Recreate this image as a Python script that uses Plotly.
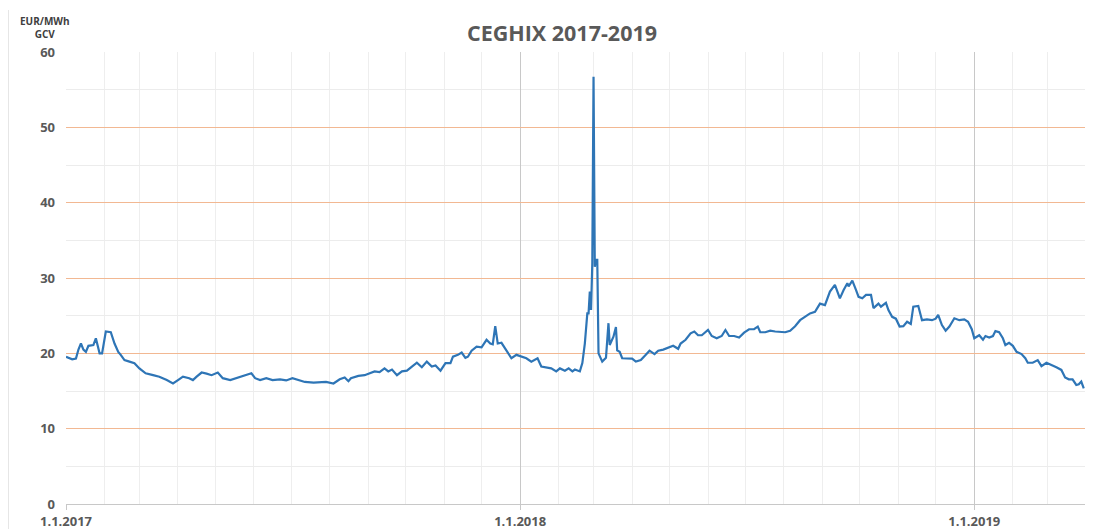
import plotly.graph_objects as go

dates = [
    "2017-01-01", "2017-01-06", "2017-01-09", "2017-01-11", "2017-01-13", "2017-01-15", "2017-01-17",
    "2017-01-19", "2017-01-23", "2017-01-25", "2017-01-28", "2017-01-30", "2017-02-02", "2017-02-06",
    "2017-02-09", "2017-02-12", "2017-02-14", "2017-02-17", "2017-02-21", "2017-02-25", "2017-03-01",
    "2017-03-06", "2017-03-12", "2017-03-17", "2017-03-23", "2017-03-28", "2017-04-01", "2017-04-05",
    "2017-04-10", "2017-04-13", "2017-04-16", "2017-04-20", "2017-04-24", "2017-04-28", "2017-05-03",
    "2017-05-07", "2017-05-13", "2017-05-18", "2017-05-23", "2017-05-30", "2017-06-02", "2017-06-06",
    "2017-06-11", "2017-06-16", "2017-06-22", "2017-06-27", "2017-07-02", "2017-07-08", "2017-07-12",
    "2017-07-19", "2017-07-24", "2017-07-29", "2017-08-04", "2017-08-09", "2017-08-13", "2017-08-16",
    "2017-08-18", "2017-08-24", "2017-08-29", "2017-09-02", "2017-09-06", "2017-09-10", "2017-09-14",
    "2017-09-17", "2017-09-20", "2017-09-24", "2017-09-28", "2017-10-02", "2017-10-06", "2017-10-10",
    "2017-10-14", "2017-10-18", "2017-10-22", "2017-10-25", "2017-10-29", "2017-11-02", "2017-11-06",
    "2017-11-08", "2017-11-12", "2017-11-15", "2017-11-18", "2017-11-20", "2017-11-23", "2017-11-27",
    "2017-12-01", "2017-12-05", "2017-12-08", "2017-12-10", "2017-12-12", "2017-12-14", "2017-12-17",
    "2017-12-20", "2017-12-23", "2017-12-25", "2017-12-29", "2018-01-02", "2018-01-06", "2018-01-10",
    "2018-01-15", "2018-01-18", "2018-01-22", "2018-01-26", "2018-01-30", "2018-02-02", "2018-02-06",
    "2018-02-09", "2018-02-12", "2018-02-14", "2018-02-18", "2018-02-20", "2018-02-21", "2018-02-22",
    "2018-02-24", "2018-02-25", "2018-02-26", "2018-02-27", "2018-02-28", "2018-03-01", "2018-03-02",
    "2018-03-03", "2018-03-04", "2018-03-05", "2018-03-08", "2018-03-11", "2018-03-13", "2018-03-14",
    "2018-03-17", "2018-03-19", "2018-03-20", "2018-03-22", "2018-03-24", "2018-03-28", "2018-04-01",
    "2018-04-04", "2018-04-08", "2018-04-12", "2018-04-15", "2018-04-19", "2018-04-22", "2018-04-26",
    "2018-04-30", "2018-05-04", "2018-05-08", "2018-05-10", "2018-05-14", "2018-05-18", "2018-05-21",
    "2018-05-24", "2018-05-27", "2018-05-29", "2018-06-01", "2018-06-04", "2018-06-08", "2018-06-12",
    "2018-06-15", "2018-06-18", "2018-06-22", "2018-06-26", "2018-06-30", "2018-07-04", "2018-07-08",
    "2018-07-11", "2018-07-13", "2018-07-17", "2018-07-21", "2018-07-25", "2018-07-29", "2018-08-02",
    "2018-08-06", "2018-08-10", "2018-08-14", "2018-08-18", "2018-08-22", "2018-08-26", "2018-08-30",
    "2018-09-03", "2018-09-07", "2018-09-11", "2018-09-15", "2018-09-18", "2018-09-21", "2018-09-22",
    "2018-09-25", "2018-09-28", "2018-09-30", "2018-10-03", "2018-10-06", "2018-10-10", "2018-10-12",
    "2018-10-16", "2018-10-18", "2018-10-22", "2018-10-24", "2018-10-27", "2018-10-30", "2018-11-02",
    "2018-11-05", "2018-11-08", "2018-11-11", "2018-11-13", "2018-11-17", "2018-11-20", "2018-11-24",
    "2018-11-28", "2018-12-01", "2018-12-03", "2018-12-06", "2018-12-09", "2018-12-12", "2018-12-16",
    "2018-12-20", "2018-12-24", "2018-12-27", "2018-12-30", "2019-01-01", "2019-01-05", "2019-01-08",
    "2019-01-10", "2019-01-13", "2019-01-16", "2019-01-18", "2019-01-21", "2019-01-24", "2019-01-26",
    "2019-01-29", "2019-02-01", "2019-02-04", "2019-02-08", "2019-02-11", "2019-02-13", "2019-02-17",
    "2019-02-21", "2019-02-24", "2019-02-28", "2019-03-04", "2019-03-08", "2019-03-12", "2019-03-15",
    "2019-03-18", "2019-03-21", "2019-03-24", "2019-03-26", "2019-03-28", "2019-03-30",
]

prices = [
    19.55, 19.2, 19.3, 20.5, 21.3, 20.5, 20.2,
    21.0, 21.1, 22.0, 20.0, 20.0, 22.9, 22.8,
    21.3, 20.2, 19.8, 19.1, 18.9, 18.7, 18.0,
    17.35, 17.1, 16.9, 16.45, 16.0, 16.45, 16.9,
    16.7, 16.45, 16.9, 17.45, 17.3, 17.1, 17.45,
    16.7, 16.45, 16.7, 17.0, 17.35, 16.7, 16.45,
    16.7, 16.45, 16.55, 16.4, 16.7, 16.45, 16.2,
    16.1, 16.2, 16.2, 16.0, 16.55, 16.8, 16.3,
    16.7, 17.0, 17.1, 17.35, 17.6, 17.5, 18.0,
    17.6, 17.85, 17.1, 17.6, 17.7, 18.25, 18.75,
    18.15, 18.9, 18.25, 18.4, 17.7, 18.7, 18.7,
    19.55, 19.8, 20.1, 19.4, 19.55, 20.35, 20.9,
    20.8, 21.8, 21.3, 21.2, 23.6, 21.3, 21.4,
    20.65, 20.0, 19.35, 19.8, 19.55, 19.35, 18.9,
    19.35, 18.25, 18.15, 18.0, 17.6, 18.0, 17.7,
    18.0, 17.6, 17.85, 17.6, 18.7, 20.0, 21.3,
    25.3, 25.3, 28.2, 25.75, 31.95, 56.7, 31.5,
    32.4, 32.4, 20.0, 18.9, 19.4, 24.0, 21.1,
    22.2, 23.5, 20.4, 20.2, 19.35, 19.3, 19.3,
    18.9, 19.1, 19.8, 20.35, 19.9, 20.35, 20.5,
    20.8, 21.0, 20.6, 21.3, 21.8, 22.65, 22.9,
    22.4, 22.4, 22.65, 23.1, 22.3, 22.0, 22.3,
    23.1, 22.3, 22.3, 22.1, 22.75, 23.2, 23.2,
    23.55, 22.8, 22.8, 23.0, 22.9, 22.9, 22.8,
    23.0, 23.6, 24.4, 24.8, 25.3, 25.5, 26.6,
    26.4, 28.2, 29.1, 27.3, 28.4, 29.3, 28.9,
    29.65, 28.4, 27.5, 27.3, 27.75, 27.75, 26.0,
    26.6, 26.2, 26.7, 25.75, 24.85, 24.6, 23.55,
    23.6, 24.2, 23.9, 26.2, 26.3, 24.4, 24.5,
    24.4, 24.6, 25.1, 23.75, 23.0, 23.55, 24.65,
    24.4, 24.5, 24.2, 23.2, 22.0, 22.4, 21.8,
    22.3, 22.1, 22.3, 22.95, 22.8, 22.0, 21.1,
    21.4, 21.0, 20.2, 19.9, 19.35, 18.75, 18.75,
    19.1, 18.3, 18.75, 18.5, 18.15, 17.8, 16.8,
    16.55, 16.55, 15.8, 15.9, 16.25, 15.35,
]

year_ticks = ["2017-01-01", "2018-01-01", "2019-01-01"]
year_labels = ["1.1.2017", "1.1.2018", "1.1.2019"]
x_range = ["2017-01-01", "2019-03-31"]
y_ticks = [0, 10, 20, 30, 40, 50, 60]
y_minor = [5, 15, 25, 35, 45, 55]

W, H = 1097, 521
L, T, PW, PH = 58, 44, 1019, 452

fig = go.Figure()
fig.add_trace(go.Scatter(
    x=dates, y=prices, mode="lines",
    line=dict(color="#2e75b6", width=2.2),
    showlegend=False, hoverinfo="x+y",
))

label_font = dict(family="Open Sans", size=13, color="#595959", weight="bold")

fig.update_layout(
    width=W, height=H,
    margin=dict(l=L, r=W - L - PW, t=T, b=H - T - PH, pad=0),
    paper_bgcolor="white", plot_bgcolor="white",
    title=dict(
        text="<b>CEGHIX 2017-2019</b>",
        x=554 / W, xref="container", xanchor="center",
        y=1 - 25 / H, yref="container", yanchor="middle",
        font=dict(family="Open Sans", size=21.5, color="#595959"),
    ),
    xaxis=dict(
        type="date", range=x_range, automargin=False,
        tickvals=year_ticks, ticktext=year_labels,
        tickfont=label_font,
        showgrid=True, gridcolor="#c8c8c8", gridwidth=1,
        minor=dict(dtick="M1", tick0="2017-01-01", showgrid=True, gridcolor="#eeeeee", gridwidth=1),
        ticks="outside", ticklen=5, tickcolor="#c8c8c8",
        showline=True, linecolor="#c8c8c8", linewidth=1,
        zeroline=False,
    ),
    yaxis=dict(
        range=[0, 60], automargin=False,
        tickmode="array", tickvals=y_ticks,
        tickfont=label_font,
        showgrid=True, gridcolor="#f2b892", gridwidth=1,
        minor=dict(tickmode="array", tickvals=y_minor, showgrid=True, gridcolor="#ececec", gridwidth=1),
        ticks="", showline=False, zeroline=False,
        ticklabelstandoff=10,
    ),
    annotations=[dict(
        text="<b>EUR/MWh<br>GCV</b>", xref="paper", yref="paper",
        x=(37 - L) / PW, y=(PH + T - 19) / PH,
        xanchor="center", yanchor="middle", showarrow=False,
        font=dict(family="Open Sans", size=10, color="#404040"),
    )],
    shapes=[dict(
        type="line", xref="paper", yref="paper",
        x0=(0.5 - L) / PW, x1=(0.5 - L) / PW,
        y0=(PH + T - 2) / PH, y1=(PH + T - H) / PH,
        line=dict(color="#e6e6e6", width=1),
    )],
)

fig.write_html("out.html")
